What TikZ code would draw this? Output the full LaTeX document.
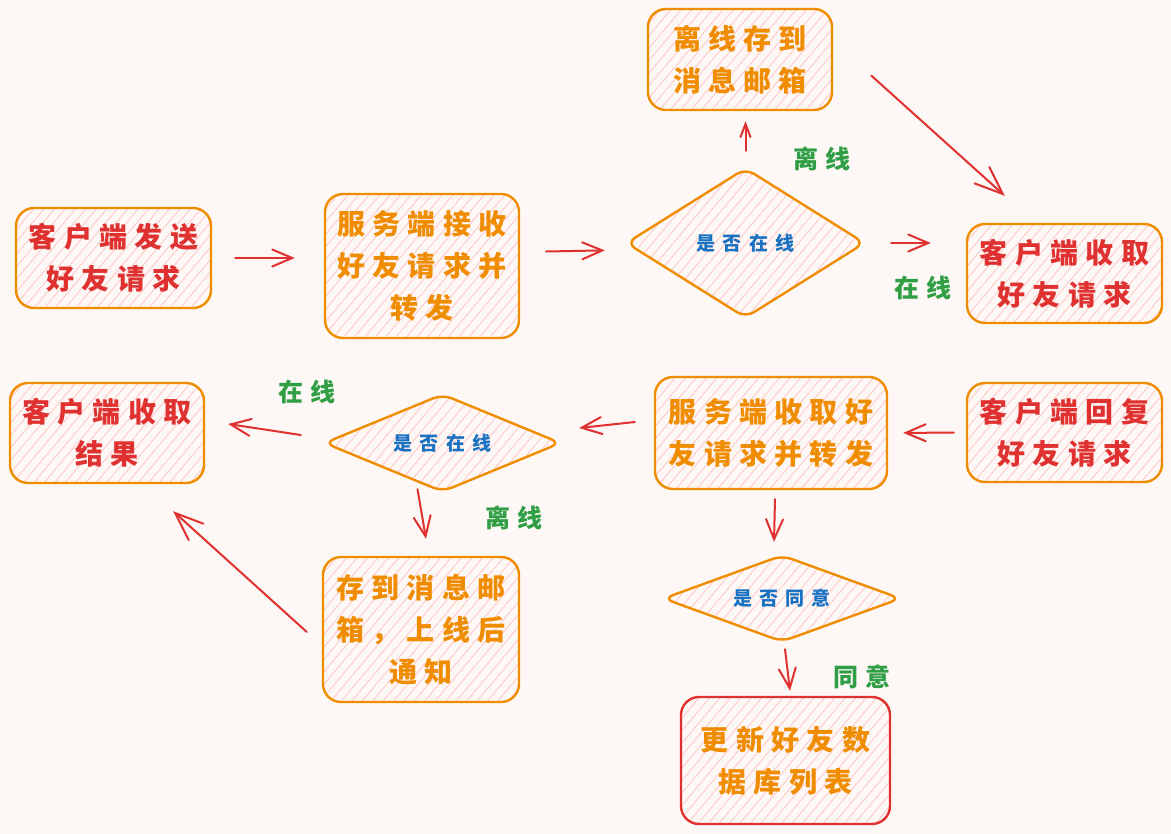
\documentclass[tikz,border=0pt]{standalone}
\usepackage{fontspec}
\usetikzlibrary{shapes.geometric,arrows.meta,patterns.meta}
\newfontfamily\cjkbox[LetterSpace=26]{Noto Sans CJK SC}
\newfontfamily\cjkdia[LetterSpace=38]{Noto Sans CJK SC}
\newfontfamily\cjklab[LetterSpace=28]{Noto Sans CJK SC}
\definecolor{paper}{HTML}{FDF8F5}
\definecolor{edgeorange}{HTML}{F08C00}
\definecolor{edgered}{HTML}{E03131}
\definecolor{hatch}{HTML}{FFC9C9}
\definecolor{txtblue}{HTML}{1971C2}
\definecolor{txtgreen}{HTML}{2F9E44}
\begin{document}
\begin{tikzpicture}[x=1pt,y=-1pt,
  hatched/.style={pattern={Lines[angle=50,distance=8pt,line width=0.9pt]}, pattern color=hatch},
  box/.style={hatched, draw=edgeorange, line width=2.4pt, rounded corners=18pt,
    align=center, inner sep=0pt},
  redtext/.style={text=edgered, font=\cjkbox\bfseries\fontsize{28}{42}\selectfont},
  orangetext/.style={text=edgeorange, font=\cjkbox\bfseries\fontsize{28}{42}\selectfont},
  decision/.style={diamond, hatched, draw=edgeorange, line width=2.4pt, rounded corners=10pt,
    inner sep=0pt, text=txtblue, font=\cjkdia\bfseries\fontsize{19}{24}\selectfont},
  lab/.style={text=txtgreen, font=\cjklab\bfseries\fontsize{25}{30}\selectfont},
  arr/.style={draw=edgered, line width=2pt, line cap=round,
    -{Straight Barb[length=20pt,width=17pt,line cap=round]}},
  bigarr/.style={arr, -{Straight Barb[length=28pt,width=22pt,line cap=round]}},
  smallarr/.style={arr, -{Straight Barb[length=13pt,width=10pt,line cap=round]}}
]
\fill[paper] (0,0) rectangle (1171,834);
\useasboundingbox (0,0) rectangle (1171,834);

% process boxes
\node[box, redtext, minimum width=195pt, minimum height=100pt] (b1) at (113.5,258) {客户端发送\\好友请求};
\node[box, orangetext, minimum width=194pt, minimum height=144pt] (b2) at (422,266) {服务端接收\\好友请求并\\转发};
\node[box, orangetext, minimum width=184pt, minimum height=101pt] (b4) at (740,59.5) {离线存到\\消息邮箱};
\node[box, redtext, minimum width=195pt, minimum height=99pt] (b5) at (1064.5,273.5) {客户端收取\\好友请求};
\node[box, redtext, minimum width=194pt, minimum height=100pt] (b6) at (107,433) {客户端收取\\结果};
\node[box, orangetext, minimum width=232pt, minimum height=112pt] (b8) at (771,433) {服务端收取好\\友请求并转发};
\node[box, redtext, minimum width=195pt, minimum height=99pt] (b9) at (1064.5,432.5) {客户端回复\\好友请求};
\node[box, orangetext, minimum width=196pt, minimum height=145pt] (b10) at (421,629.5) {存到消息邮\\箱，上线后\\通知};
\node[box, orangetext, draw=edgered, minimum width=209pt, minimum height=127pt] (b12) at (785.5,760.5) {更新好友数\\据库列表};

% decisions
\node[decision, aspect=1.6, minimum width=239pt, minimum height=150pt] (d1) at (745.5,243) {是否在线};
\node[decision, aspect=2.6, minimum width=237pt, minimum height=98pt] (d2) at (442.5,443) {是否在线};
\node[decision, aspect=2.8, minimum width=238pt, minimum height=87pt] (d3) at (782,598.5) {是否同意};

% branch labels
\node[lab] (l1) at (822,159) {离线};
\node[lab] (l2) at (923,288) {在线};
\node[lab] (l3) at (307,392) {在线};
\node[lab] (l4) at (514,518) {离线};
\node[lab] (l5) at (862,677) {同意};

% connectors
\draw[arr, shorten <=23pt, shorten >=29pt] (b1.east) -- (b1.east -| b2.west);
\draw[arr, shorten <=26pt, shorten >=20pt] ([shift={(0,-14)}]b2.east) -- ([shift={(0,7)}]d1.west);
\draw[smallarr, shorten <=16pt, shorten >=10pt] (d1.north) -- (d1.north |- b4.south);
\draw[bigarr] ([shift={(38,16)}]b4.east) -- ([shift={(39,-27)}]b5.north west);
\draw[arr, shorten <=25pt, shorten >=35pt] (d1.east) -- (d1.east -| b5.west);
\draw[arr, shorten <=12pt, shorten >=15pt] (b9.west) -- (b8.east);
\draw[arr] ([shift={(-19,-11)}]b8.west) -- ([shift={(17,-15)}]d2.east);
\draw[arr] ([shift={(-22,-8)}]d2.west) -- ([shift={(23,-9)}]b6.east);
\draw[arr] ([shift={(-25,-4)}]d2.south) -- ([shift={(5,-17)}]b10.north);
\draw[bigarr] ([shift={(-15,2.5)}]b10.west) -- ([shift={(-32,27)}]b6.south east);
\draw[arr] ([shift={(4,9)}]b8.south) -- ([shift={(-8,-12)}]d3.north);
\draw[arr] ([shift={(3,6)}]d3.south) -- ([shift={(4.5,-5)}]b12.north);
\end{tikzpicture}
\end{document}
